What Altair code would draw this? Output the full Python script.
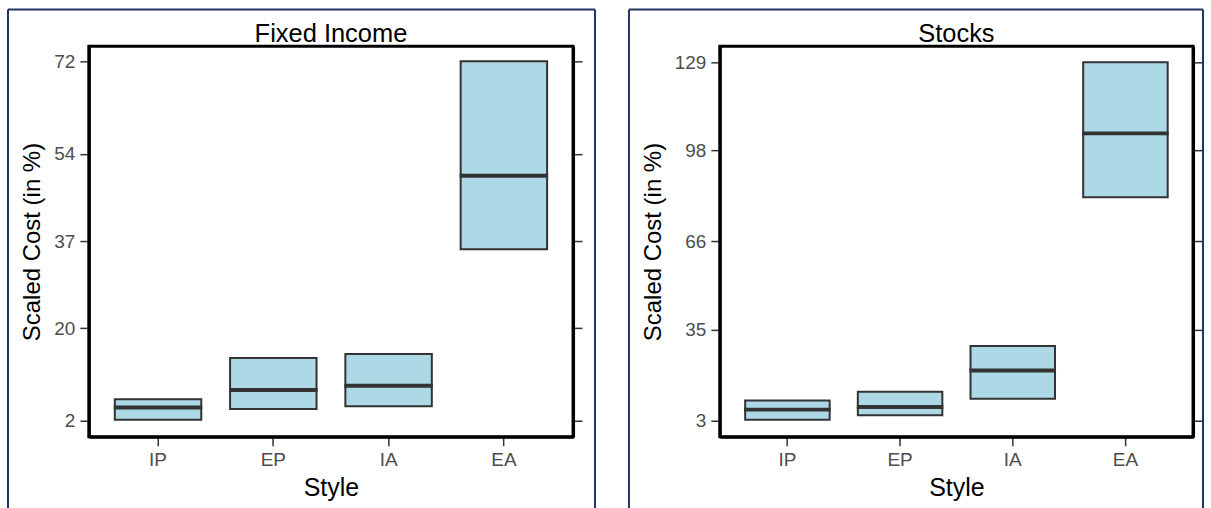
import altair as alt
import pandas as pd

# Categories shared by both panels
styles = ["IP", "EP", "IA", "EA"]

# Fixed income: box bottom, median, box top (scaled cost, %)
fixed_low = [2.2, 4.3, 4.8, 35.4]
fixed_median = [4.6, 8.0, 8.8, 49.7]
fixed_high = [6.2, 14.2, 15.0, 72.0]
fixed_ticks = [2, 20, 37, 54, 72]

# Stocks: box bottom, median, box top (scaled cost, %)
stock_low = [3.2, 4.8, 10.6, 81.5]
stock_median = [6.8, 7.7, 20.6, 104.0]
stock_high = [10.0, 13.1, 29.2, 129.0]
stock_ticks = [3, 35, 66, 98, 129]

FONT = "Liberation Sans"
FILL = "#ADD8E6"
EDGE = "#333333"
FRAME = "#1F3461"
PLOT_H = 391
PAD_INNER = 0.25
PAD_OUTER = 0.225


def panel(title, low, med, high, ticks, domain, width, frame_left, frame_right):
    df = pd.DataFrame({"Style": styles, "low": low, "median": med, "high": high})

    x = alt.X(
        "Style:N",
        sort=styles,
        title="Style",
        scale=alt.Scale(paddingInner=PAD_INNER, paddingOuter=PAD_OUTER),
        axis=alt.Axis(labelAngle=0, titlePadding=6, labelPadding=5, titleFontSize=25),
    )
    yscale = alt.Scale(domain=domain, nice=False, zero=False)

    boxes = alt.Chart(df).mark_bar(fill=FILL, stroke=EDGE, strokeWidth=2).encode(
        x=x,
        y=alt.Y(
            "low:Q",
            scale=yscale,
            title="Scaled Cost (in %)",
            axis=alt.Axis(values=ticks, format="d", titlePadding=9, labelPadding=5),
        ),
        y2="high:Q",
    )

    # median line spans the full box width
    step = width / (len(styles) - PAD_INNER + 2 * PAD_OUTER)
    medians = alt.Chart(df).mark_tick(
        color=EDGE, thickness=4, size=step * (1 - PAD_INNER) + 2, orient="horizontal", opacity=1
    ).encode(
        x=x,
        y=alt.Y(
            "median:Q",
            scale=yscale,
            title=None,
            axis=alt.Axis(orient="right", values=ticks, labels=False),
        ),
    )

    one = pd.DataFrame({"label": [title]})
    heading = alt.Chart(one).mark_text(
        font=FONT, fontSize=25.5, color="black", baseline="alphabetic", align="center"
    ).encode(text="label:N", x=alt.value(width / 2), y=alt.value(-4))

    right = width + frame_right
    frame_l = alt.Chart(one).mark_rule(color=FRAME, strokeWidth=2).encode(
        x=alt.value(-frame_left), y=alt.value(-37), y2=alt.value(470)
    )
    frame_t = alt.Chart(one).mark_rule(color=FRAME, strokeWidth=2).encode(
        x=alt.value(-frame_left), x2=alt.value(right), y=alt.value(-37)
    )
    frame_r = alt.Chart(one).mark_rule(color=FRAME, strokeWidth=2).encode(
        x=alt.value(right), y=alt.value(-37), y2=alt.value(470)
    )

    return (
        alt.layer(boxes, medians, heading, frame_l, frame_t, frame_r)
        .resolve_axis(y="independent")
        .properties(width=width, height=PLOT_H)
    )


fixed = panel("Fixed Income", fixed_low, fixed_median, fixed_high, fixed_ticks,
              [-1.11, 74.92], 485, 81, 22)
stocks = panel("Stocks", stock_low, stock_median, stock_high, stock_ticks,
               [-2.73, 134.62], 474, 91, 10)

chart = (
    alt.hconcat(fixed, stocks, spacing=28)
    .properties(padding={"left": 5, "top": 6, "right": 5, "bottom": 0}, background="white")
    .configure_view(stroke="black", strokeWidth=3)
    .configure_axis(
        domainColor="black",
        domainWidth=3,
        tickColor=EDGE,
        tickWidth=1.5,
        tickSize=9,
        labelColor="#4D4D4D",
        labelFont=FONT,
        labelFontSize=19,
        titleFont=FONT,
        titleFontSize=24,
        titleFontWeight="normal",
        titleColor="black",
        grid=False,
    )
)

chart.save("out.html", embed_options={"renderer": "svg", "actions": False})
